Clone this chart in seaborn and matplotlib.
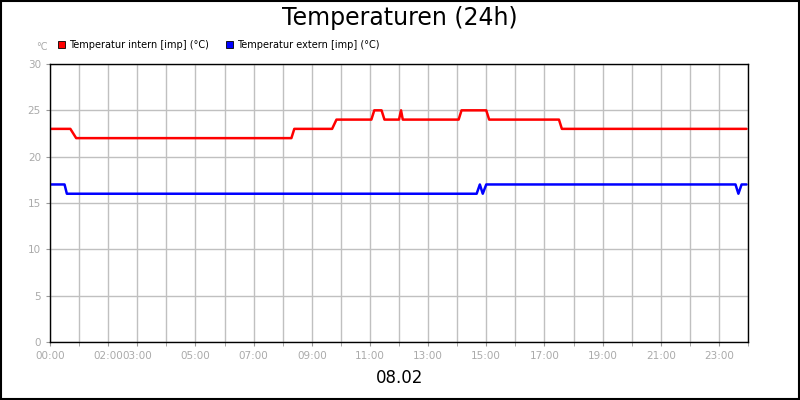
import matplotlib
matplotlib.use("Agg")
import matplotlib.pyplot as plt
import seaborn as sns
import pandas as pd
from matplotlib.patches import Rectangle

# hours of day and temperatures
intern_h = [0, 0.7, 0.9, 8.3, 8.4, 9.7, 9.85, 11.05, 11.15, 11.4, 11.5, 12.0, 12.07, 12.13, 14.05, 14.15, 15.0, 15.1, 17.5, 17.6, 23.95]
intern_t = [23, 23, 22, 22, 23, 23, 24, 24, 25, 25, 24, 24, 25, 24, 24, 25, 25, 24, 24, 23, 23]
extern_h = [0, 0.5, 0.58, 14.67, 14.78, 14.88, 15.0, 23.57, 23.67, 23.78, 23.95]
extern_t = [17, 17, 16, 16, 17, 16, 17, 17, 16, 17, 17]
tick_hours = [0, 2, 3, 5, 7, 9, 11, 13, 15, 17, 19, 21, 23]
tick_labels = ["00:00", "02:00", "03:00", "05:00", "07:00", "09:00", "11:00", "13:00", "15:00", "17:00", "19:00", "21:00", "23:00"]

sns.set_style("white")
fig = plt.figure(figsize=(8, 4), dpi=100)
ax = fig.add_axes([50/800, 58/400, 698/800, 278/400])

df_i = pd.DataFrame({"h": intern_h, "t": intern_t})
df_e = pd.DataFrame({"h": extern_h, "t": extern_t})
sns.lineplot(data=df_i, x="h", y="t", color="#ff0000", lw=1.8, ax=ax)
sns.lineplot(data=df_e, x="h", y="t", color="#0000ff", lw=1.8, ax=ax)

ax.set_xlim(0, 24)
ax.set_ylim(0, 30)
ax.set_xticks(range(0, 25), minor=True)
ax.set_xticks(tick_hours)
ax.set_xticklabels(tick_labels)
ax.set_yticks(range(0, 31, 5))
ax.grid(True, which="both", axis="x", color="#c0c0c0", lw=1)
ax.grid(True, which="major", axis="y", color="#c0c0c0", lw=1)
ax.set_axisbelow(True)
ax.tick_params(axis="both", which="both", colors="#999999", labelcolor="#aaaaaa", labelsize=7.5, length=3, direction="out", left=True, bottom=True)
ax.tick_params(axis="x", which="minor", length=3)
for s in ax.spines.values():
    s.set_color("black")
    s.set_linewidth(1)
ax.set_xlabel("")
ax.set_ylabel("")

fig.text(0.5, 0.955, "Temperaturen (24h)", ha="center", va="center", fontsize=17, color="black")
fig.text(0.5, 0.055, "08.02", ha="center", va="center", fontsize=12, color="black")
fig.text(42/800, 1 - 47/400, "°C", ha="center", va="center", fontsize=7, color="#aaaaaa")

fig.patches.append(Rectangle((58/800, 1 - 48/400), 7/800, 7/400, transform=fig.transFigure, facecolor="#ff0000", edgecolor="black", lw=0.6))
fig.text(69/800, 1 - 44.5/400, "Temperatur intern [imp] (°C)", fontsize=7, va="center", color="black")
fig.patches.append(Rectangle((226/800, 1 - 48/400), 7/800, 7/400, transform=fig.transFigure, facecolor="#0000ff", edgecolor="black", lw=0.6))
fig.text(237/800, 1 - 44.5/400, "Temperatur extern [imp] (°C)", fontsize=7, va="center", color="black")

fig.patches.append(Rectangle((0.001, 0.002), 0.998, 0.996, transform=fig.transFigure, fill=False, edgecolor="black", lw=1.5))
fig.savefig("out.png", dpi=100)
